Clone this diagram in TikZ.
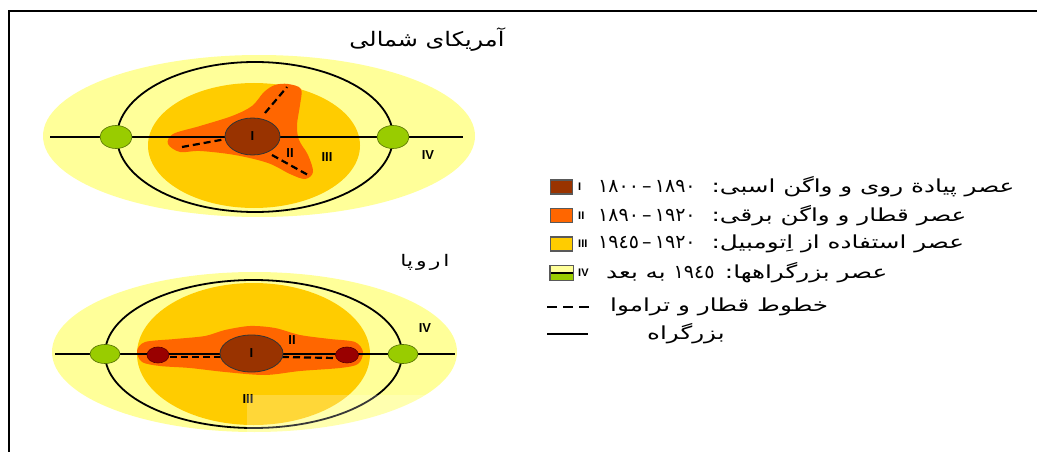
\documentclass[tikz,border=0pt]{standalone}
\usepackage{fontspec}
\setmainfont{Liberation Sans}
\newfontfamily\ar[Script=Arabic]{DejaVu Sans}
\newfontfamily\arw[Script=Arabic, FakeStretch=1.37]{DejaVu Sans}
\newfontfamily\art[Script=Arabic, FakeStretch=1.2]{DejaVu Sans}
\TeXXeTstate=1
\usetikzlibrary{shapes.geometric}
\definecolor{pale}{RGB}{255,255,153}
\definecolor{yel}{RGB}{255,204,0}
\definecolor{org}{RGB}{255,102,0}
\definecolor{brn}{RGB}{153,51,0}
\definecolor{grn}{RGB}{153,204,0}
\definecolor{mar}{RGB}{153,0,0}
\newcommand{\numf}{\ar\fontsize{19}{19}\selectfont}
\begin{document}
\begin{tikzpicture}[x=1pt,y=-1pt,
  ring/.style={draw=black, line width=1.8},
  road/.style={draw=black, line width=1.3},
  rail/.style={draw=black, line width=2.2, dash pattern=on 7 off 4},
  greennode/.style={ellipse, fill=grn, draw=grn!55!black, line width=0.6, inner sep=0},
  brownnode/.style={ellipse, fill=brn, draw=black!80, line width=0.8, inner sep=0, font=\bfseries\fontsize{13}{13}\selectfont},
  rednode/.style={ellipse, fill=mar, draw=mar!60!black, line width=0.6, inner sep=0},
  roman/.style={font=\bfseries\fontsize{13}{13}\selectfont, inner sep=0},
  lroman/.style={font=\bfseries\fontsize{11}{11}\selectfont, inner sep=0, anchor=west},
  lbox/.style={draw=black!65, line width=1.4, minimum width=22, minimum height=14, inner sep=0},
  legtxt/.style={font=\arw\fontsize{18}{18}\selectfont, inner sep=0, anchor=west},
  title/.style={font=\art\fontsize{20}{20}\selectfont, inner sep=0}
]
\useasboundingbox (0,0) rectangle (1037,452);
\fill[white] (0,0) rectangle (1037,452);
\draw[line width=2.6] (9,452) -- (9,11) -- (1037,11);

% ---------------- North America ----------------
\node[title] (tna) at (427,40) {\beginR آمریکای شمالی\endR};
\fill[pale] (259,136) ellipse [x radius=216, y radius=81];
\fill[yel] (254,145.5) ellipse [x radius=106, y radius=62.5];
\fill[org] plot[smooth cycle, tension=0.55] coordinates {
 (288,84) (301,89) (300,105) (297,125) (299,140) (308,155) (313,172) (305,179)
 (290,174) (268,163) (235,155) (200,151) (180,152) (168,144) (173,134) (200,126)
 (232,116) (252,106) (264,92) (275,85)};
\draw[ring] (255,137) ellipse [x radius=138, y radius=75];
\coordinate (ta) at (50,137);
\coordinate (tb) at (463,137);
\draw[road] (ta) -- (tb);
\coordinate (tr1a) at (265,113); \coordinate (tr1b) at (287,87);
\coordinate (tr2a) at (182,147); \coordinate (tr2b) at (226,139);
\coordinate (tr3a) at (272,155); \coordinate (tr3b) at (308,175);
\draw[rail] (tr1a) -- (tr1b);
\draw[rail] (tr2a) -- (tr2b);
\draw[rail] (tr3a) -- (tr3b);
\node[greennode, minimum width=32, minimum height=23] (tg1) at (116,137) {};
\node[greennode, minimum width=32, minimum height=23] (tg2) at (393,137) {};
\node[brownnode, minimum width=55, minimum height=37] (tI) at (252.5,136.5) {I};
\node[roman] (tII) at (290,153) {II};
\node[roman] (tIII) at (327,157) {III};
\node[roman] (tIV) at (428,155) {IV};

% ---------------- Europe ----------------
\node[title, font=\arw\fontsize{16}{16}\selectfont] (teu) at (425,262) {\beginR ا\kern3pt ر\kern3pt و\kern3pt پا\endR};
\fill[pale] (254.5,352) ellipse [x radius=202.5, y radius=80];
\fill[yel] (253.5,354) ellipse [x radius=116.5, y radius=71];
\fill[org] plot[smooth cycle, tension=0.5] coordinates {
 (137,351) (145,342) (175,339) (205,336) (225,330) (250,326) (275,328) (300,335)
 (330,339) (355,342) (363,352) (358,364) (340,368) (300,371) (265,375) (225,372)
 (190,368) (160,366) (142,362)};
\draw[ring] (253.5,354) ellipse [x radius=148.5, y radius=74];
\coordinate (ea) at (55,354);
\coordinate (eb) at (455,354);
\draw[road] (ea) -- (eb);
\coordinate (er1a) at (170,357); \coordinate (er1b) at (221,357);
\coordinate (er2a) at (282,357); \coordinate (er2b) at (336,358);
\draw[rail] (er1a) -- (er1b);
\draw[rail] (er2a) -- (er2b);
\node[greennode, minimum width=30, minimum height=19] (eg1) at (105,354) {};
\node[greennode, minimum width=30, minimum height=19] (eg2) at (403,354) {};
\node[rednode, minimum width=22, minimum height=16] (er1) at (158,355) {};
\node[rednode, minimum width=23, minimum height=16] (er2) at (347,355) {};
\node[brownnode, minimum width=63, minimum height=37] (eI) at (251.5,353.5) {I};
\node[roman] (eII) at (292,340) {II};
\node[roman] (eIII) at (248,399) {III};
\node[roman] (eIV) at (425,328) {IV};

% faint watermark overlay
\fill[white, opacity=0.22] (247,395) rectangle (1037,452);

% ---------------- Legend ----------------
\node[lbox, fill=brn] (b1) at (561.5,187) {};
\node[lbox, fill=org] (b2) at (561.5,215.5) {};
\node[lbox, fill=yel] (b3) at (561.5,244) {};
\node[lbox] (b4) at (561.5,273) {};
\fill[pale] (b4.north west) rectangle (b4.east);
\fill[grn] (b4.west) rectangle (b4.south east);
\draw[line width=1.2] (b4.west) -- (b4.east);
\draw[black!65, line width=1.4] (b4.north west) rectangle (b4.south east);

\node[lroman] (r1) at (578,187) {I};
\node[lroman] (r2) at (578,216) {II};
\node[lroman] (r3) at (578,244) {III};
\node[lroman] (r4) at (578,273) {IV};

\node[legtxt] (l1) at (598,187) {{\numf ١٨٠٠\,–\,١٨٩٠}\hspace{16pt}\beginR عصر پیادة روی و واگن اسبی:\endR};
\node[legtxt] (l2) at (598,216) {{\numf ١٨٩٠\,–\,١٩٢٠}\hspace{16pt}\beginR عصر قطار و واگن برقی:\endR};
\node[legtxt] (l3) at (598,244) {{\numf ١٩٤٥\,–\,١٩٢٠}\hspace{16pt}\beginR عصر استفاده از اِتومبیل:\endR};
\node[legtxt] (l4) at (606,273) {\beginR عصر بزرگراهها: {\numf ١٩٤٥} به بعد\endR};

\coordinate (d1a) at (547,307); \coordinate (d1b) at (590,307);
\draw[line width=2, dash pattern=on 10 off 6] (d1a) -- (d1b);
\node[legtxt] (l5) at (610,307) {\beginR خطوط قطار و تراموا\endR};
\coordinate (s1a) at (547,334); \coordinate (s1b) at (588,334);
\draw[line width=1.5] (s1a) -- (s1b);
\node[legtxt] (l6) at (647,334) {\beginR بزرگراه\endR};
\end{tikzpicture}
\end{document}
